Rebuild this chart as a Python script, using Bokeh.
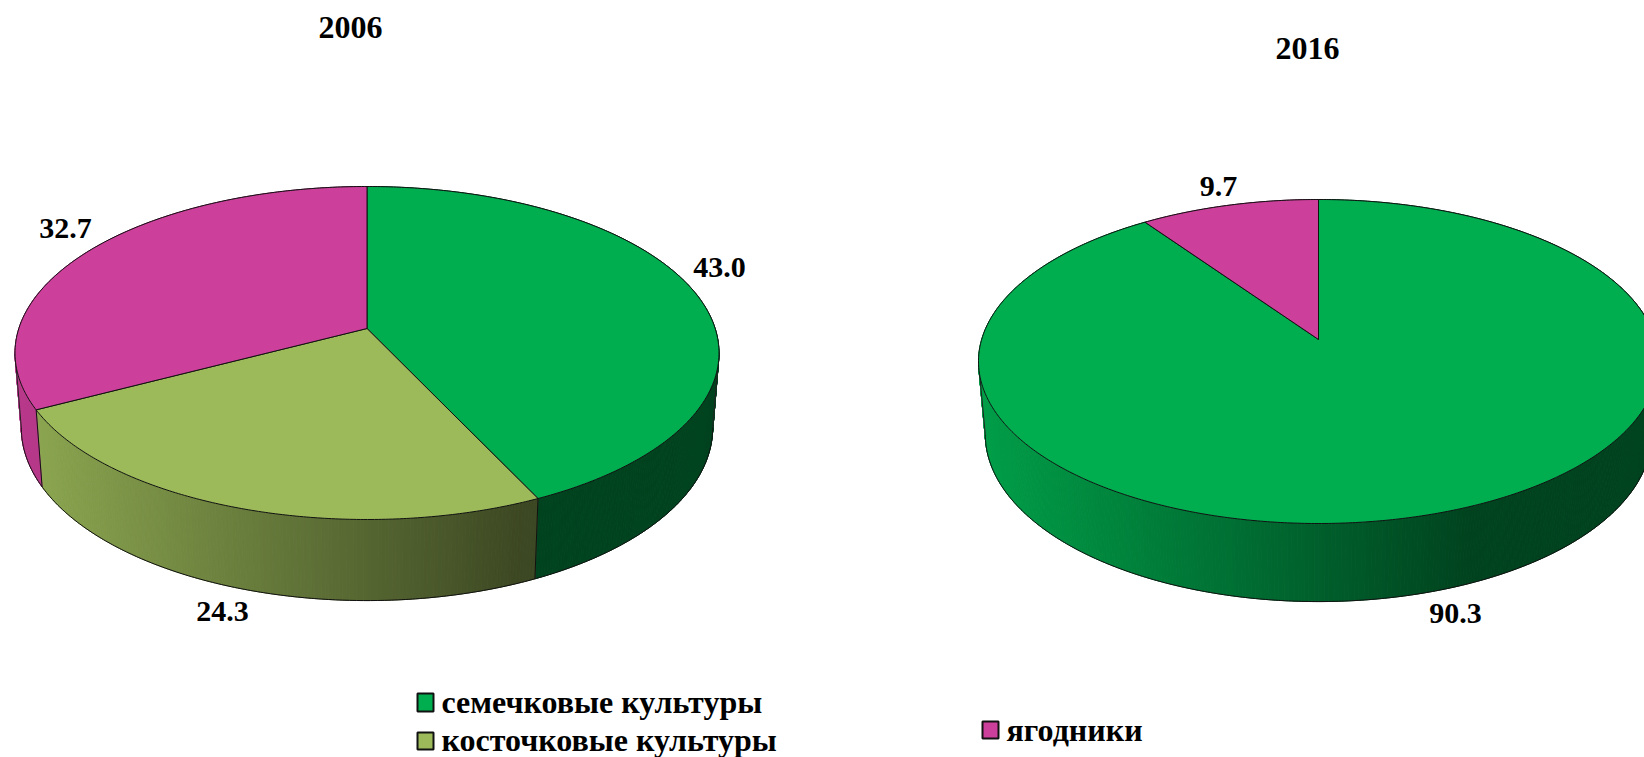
import math
from bokeh.core.properties import value
from bokeh.embed import file_html
from bokeh.models import Range1d
from bokeh.plotting import figure
from bokeh.resources import INLINE

categories = ["семечковые культуры", "косточковые культуры", "ягодники"]
years = ["2006", "2016"]
values_2006 = [43.0, 24.3, 32.7]
values_2016 = [90.3, 0.0, 9.7]
colors = ["#00AE50", "#9CBA5A", "#CC3F9A"]

W, H = 1644, 757
p = figure(width=W, height=H, x_range=Range1d(0, W), y_range=Range1d(H, 0),
           x_axis_type=None, y_axis_type=None, toolbar_location=None,
           output_backend="svg", min_border=0, background_fill_color="white",
           outline_line_color=None)
p.grid.visible = False

FONT = value("Liberation Serif")


def shade(color, f):
    r, g, b = int(color[1:3], 16), int(color[3:5], 16), int(color[5:7], 16)
    return "#%02x%02x%02x" % (int(r * f), int(g * f), int(b * f))


def draw_pie(vals, cx, cy, up, down, half_w, s_low, d0, d1):
    k = (down - up) / (down + up)
    S = up * (1 + k)
    R = half_w * math.sqrt(1 - k * k)

    def top(deg):
        a = math.radians(deg)
        den = 1 + k * math.cos(a)
        return cx + R * math.sin(a) / den, cy - S * math.cos(a) / den

    def low(deg):
        x, y = top(deg)
        return cx + (x - cx) * s_low, y + d0 + d1 * (y - cy)

    # slice angle spans, clockwise from twelve o'clock
    spans, start = [], 0.0
    for v, col in zip(vals, colors):
        if v > 0:
            spans.append((start, start + v * 3.6, col))
        start += v * 3.6

    x_left = cx - half_w
    width = 2 * half_w

    # side wall, drawn as narrow bands shaded along x
    xs, ys, fills = [], [], []
    for a0, a1, col in spans:
        n = max(2, int((a1 - a0) * 2))
        for i in range(n):
            b0 = a0 + (a1 - a0) * i / n
            b1 = a0 + (a1 - a0) * (i + 1) / n
            x0, y0 = top(b0)
            x1, y1 = top(b1)
            x2, y2 = low(b1)
            x3, y3 = low(b0)
            t = ((x0 + x1) / 2 - x_left) / width
            f = 0.91 - (0.91 - 0.39) * min(t / 0.72, 1.0)
            xs.append([x0, x1, x2, x3])
            ys.append([y0, y1, y2, y3])
            fills.append(shade(col, f))
    p.patches(xs, ys, fill_color=fills, line_color=fills, line_width=1)

    # front arc of the lower outline and the silhouette edges
    angs = [i * 0.5 for i in range(721)]
    lows = [low(a) for a in angs]
    tops = [top(a) for a in angs]
    i_max = max(range(len(tops)), key=lambda i: tops[i][0])
    i_min = min(range(len(tops)), key=lambda i: tops[i][0])
    arc = lows[i_max:i_min + 1]
    p.line([q[0] for q in arc], [q[1] for q in arc], line_color="#111111", line_width=1)
    for i in (i_max, i_min):
        p.line([tops[i][0], lows[i][0]], [tops[i][1], lows[i][1]],
               line_color="#222222", line_width=1)

    # top face
    for a0, a1, col in spans:
        n = max(2, int(a1 - a0) * 2)
        pts = [top(a0 + (a1 - a0) * i / n) for i in range(n + 1)]
        p.patch([cx] + [q[0] for q in pts], [cy] + [q[1] for q in pts],
                fill_color=col, line_color="#111111", line_width=1)

    # slice edges on the front of the wall
    for a0, a1, col in spans:
        x, y = top(a0)
        if y > cy + 20 and a0 > 0:
            xl, yl = low(a0)
            p.line([x, xl], [y, yl], line_color="#111111", line_width=1)


draw_pie(values_2006, 366.5, 328, 142, 191, 352, 0.982, 74, 0.037)
draw_pie(values_2016, 1318, 339, 140, 184, 340, 0.98, 72, 0.033)

# years
p.text([350, 1307], [27, 48], text=years, text_font=FONT, text_font_style="bold",
       text_font_size="32px", text_align="center", text_baseline="middle", text_color="black")

# data labels
p.text([719, 222, 65], [267, 611, 228],
       text=[f"{v:.1f}" for v in (values_2006[0], values_2006[1], values_2006[2])],
       text_font=FONT, text_font_style="bold", text_font_size="30px",
       text_align="center", text_baseline="middle", text_color="black")
p.text([1455, 1218], [613, 186],
       text=[f"{v:.1f}" for v in (values_2016[0], values_2016[2])],
       text_font=FONT, text_font_style="bold", text_font_size="30px",
       text_align="center", text_baseline="middle", text_color="black")

# legend
p.quad(left=[417, 417, 982], right=[433, 433, 998], top=[693, 732, 721], bottom=[711, 749, 738],
       fill_color=colors, line_color="#111111", line_width=2)
p.text([441, 441, 1006], [701, 739, 729], text=categories,
       text_font=FONT, text_font_style="bold", text_font_size="32px",
       text_align="left", text_baseline="middle", text_color="black")

open("out.html", "w").write(file_html(p, INLINE))
